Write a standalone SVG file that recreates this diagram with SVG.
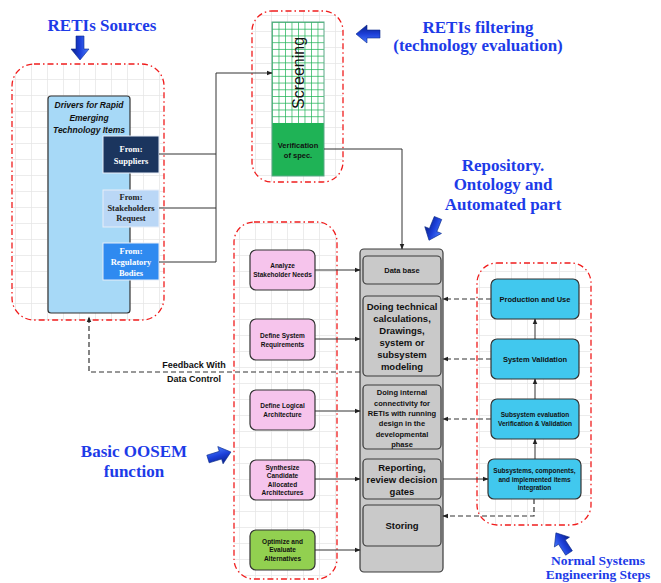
<svg xmlns="http://www.w3.org/2000/svg" width="661" height="583" viewBox="0 0 661 583">
  <defs>
    <style>
      .grp { fill: url(#grid); stroke: #f01c1c; stroke-width: 1.3; stroke-dasharray: 6 3 1.5 3; }
      .title { font-family: "Liberation Serif", "Times New Roman", serif; font-weight: bold; font-size: 17px; fill: #1d3be8; text-anchor: middle; }
      .lbl { font-family: "Liberation Sans", Arial, sans-serif; font-weight: bold; fill: #111; text-anchor: middle; }
      .src { font-family: "Liberation Serif", "Times New Roman", serif; font-weight: bold; font-size: 8.5px; text-anchor: middle; }
      .pink { fill: #f6c4ec; stroke: #333; stroke-width: 1.2; }
      .cyan { fill: #41c8ee; stroke: #333; stroke-width: 1.2; }
      .gray { fill: #c9c9c9; stroke: #3a3a3a; stroke-width: 1.2; }
      .wire { fill: none; stroke: #333; stroke-width: 1; }
      .dash { fill: none; stroke: #333; stroke-width: 1.2; stroke-dasharray: 5 3; }
      .bigarrow { fill: url(#blueGrad); stroke: #0a2a8a; stroke-width: 0.6; }
    </style>
    <pattern id="grid" patternUnits="userSpaceOnUse" width="16" height="16">
      <path d="M16 0 V16 M0 16 H16" fill="none" stroke="#e6e6e6" stroke-width="1.5"/>
    </pattern>
    <pattern id="greenGrid" patternUnits="userSpaceOnUse" x="272" y="22" width="6.5" height="6.73">
      <rect width="6.5" height="6.73" fill="#ffffff"/>
      <path d="M0 0 V6.73 M0 0 H6.5" fill="none" stroke="#1fb356" stroke-width="1.4"/>
    </pattern>
    <linearGradient id="blueGrad" x1="0" y1="0" x2="0" y2="1">
      <stop offset="0" stop-color="#4a7cff"/>
      <stop offset="0.5" stop-color="#1c3fd8"/>
      <stop offset="1" stop-color="#0a1f8a"/>
    </linearGradient>
    <marker id="ah" viewBox="0 0 10 10" refX="9" refY="5" markerWidth="6" markerHeight="6" markerUnits="userSpaceOnUse" orient="auto">
      <path d="M0 1 L10 5 L0 9 Z" fill="#222"/>
    </marker>
    <polygon id="blockArrow" points="0,-4 13,-4 13,-9 24,0 13,9 13,4 0,4"/>
  </defs>

  <!-- dashed boundary groups with faint grid -->
  <g id="group-sources"><rect class="grp" x="12" y="64" width="152" height="256" rx="22"/></g>
  <g id="group-filtering"><rect class="grp" x="252" y="11" width="91" height="171" rx="20"/></g>
  <g id="group-oosem"><rect class="grp" x="234" y="222" width="103" height="357" rx="20"/></g>
  <g id="group-normal"><rect class="grp" x="477" y="263" width="114" height="262" rx="20"/></g>

  <!-- section titles -->
  <g id="titles">
    <text class="title" x="102" y="31">RETIs Sources</text>
    <text class="title" x="478" y="33">RETIs filtering</text>
    <text class="title" x="478" y="51">(technology evaluation)</text>
    <text class="title" x="503" y="171">Repository.</text>
    <text class="title" x="503" y="190">Ontology and</text>
    <text class="title" x="503" y="210">Automated part</text>
    <text class="title" x="134" y="457">Basic OOSEM</text>
    <text class="title" x="134" y="477">function</text>
    <text class="title" x="598" y="565" style="font-size:13.5px">Normal Systems</text>
    <text class="title" x="598" y="579" style="font-size:13.5px">Engineering Steps</text>
  </g>

  <!-- pointer arrows next to titles -->
  <g id="pointers">
    <use href="#blockArrow" class="bigarrow" transform="translate(80,36) rotate(90)"/>
    <use href="#blockArrow" class="bigarrow" transform="translate(380,34) rotate(180)"/>
    <use href="#blockArrow" class="bigarrow" transform="translate(438,218) rotate(112)"/>
    <use href="#blockArrow" class="bigarrow" transform="translate(208,459) rotate(-17)"/>
    <use href="#blockArrow" class="bigarrow" transform="translate(569,553) rotate(-123)"/>
  </g>

  <!-- sources -->
  <g id="drivers">
    <rect x="48" y="96" width="82" height="217" rx="3" fill="#a7d9f7" stroke="#333" stroke-width="1.2"/>
    <text class="lbl" x="89" y="108" style="font-size:8.5px;font-style:italic">Drivers for Rapid</text>
    <text class="lbl" x="89" y="121" style="font-size:8.5px;font-style:italic">Emerging</text>
    <text class="lbl" x="89" y="133" style="font-size:8.5px;font-style:italic">Technology Items</text>
  </g>
  <g id="src-suppliers">
    <rect x="103" y="136" width="56" height="37" fill="#1b355e" stroke="#e8eef8" stroke-width="1"/>
    <text class="src" x="131" y="152" fill="#ffffff">From:</text>
    <text class="src" x="131" y="164" fill="#ffffff">Suppliers</text>
  </g>
  <g id="src-stakeholders">
    <rect x="103" y="190" width="56" height="37" fill="#bad7f6" stroke="#e8eef8" stroke-width="1"/>
    <text class="src" x="131" y="200" fill="#222">From:</text>
    <text class="src" x="131" y="211" fill="#222">Stakeholders</text>
    <text class="src" x="131" y="221" fill="#222">Request</text>
  </g>
  <g id="src-regulatory">
    <rect x="103" y="243" width="56" height="37" fill="#2f8af0" stroke="#e8eef8" stroke-width="1"/>
    <text class="src" x="131" y="254" fill="#ffffff">From:</text>
    <text class="src" x="131" y="265" fill="#ffffff">Regulatory</text>
    <text class="src" x="131" y="276" fill="#ffffff">Bodies</text>
  </g>

  <!-- screening column -->
  <g id="screening">
    <rect x="272" y="22" width="52" height="101" fill="url(#greenGrid)"/>
    <rect x="272" y="123" width="52" height="53" fill="#1fb356"/>
    <rect x="272" y="22" width="52" height="154" fill="none" stroke="#5aa886" stroke-width="1"/>
    <text x="0" y="0" transform="translate(304,73) rotate(-90)" style="font-family:'Liberation Sans',Arial,sans-serif;font-size:16px;fill:#111;text-anchor:middle">Screening</text>
    <text class="lbl" x="298" y="148" style="font-size:7.5px">Verification</text>
    <text class="lbl" x="298" y="158" style="font-size:7.5px">of spec.</text>
  </g>

  <!-- OOSEM steps -->
  <g id="oosem-analyze">
    <rect class="pink" x="250" y="250" width="65" height="40" rx="6"/>
    <text class="lbl" x="282.5" y="268" style="font-size:6.5px">Analyze</text>
    <text class="lbl" x="282.5" y="276.5" style="font-size:6.5px">Stakeholder Needs</text>
  </g>
  <g id="oosem-requirements">
    <rect class="pink" x="250" y="319" width="65" height="41" rx="6"/>
    <text class="lbl" x="282.5" y="338" style="font-size:6.5px">Define System</text>
    <text class="lbl" x="282.5" y="346.5" style="font-size:6.5px">Requirements</text>
  </g>
  <g id="oosem-logical">
    <rect class="pink" x="250" y="390" width="65" height="40" rx="6"/>
    <text class="lbl" x="282.5" y="408" style="font-size:6.5px">Define Logical</text>
    <text class="lbl" x="282.5" y="416.5" style="font-size:6.5px">Architecture</text>
  </g>
  <g id="oosem-synthesize">
    <rect class="pink" x="250" y="460" width="65" height="40" rx="6"/>
    <text class="lbl" x="282.5" y="469.5" style="font-size:6.5px">Synthesize</text>
    <text class="lbl" x="282.5" y="478" style="font-size:6.5px">Candidate</text>
    <text class="lbl" x="282.5" y="486.5" style="font-size:6.5px">Allocated</text>
    <text class="lbl" x="282.5" y="495" style="font-size:6.5px">Architectures</text>
  </g>
  <g id="oosem-optimize">
    <rect x="250" y="530" width="65" height="40" rx="6" fill="#92d050" stroke="#333" stroke-width="1.2"/>
    <text class="lbl" x="282.5" y="543.5" style="font-size:6.5px">Optimize and</text>
    <text class="lbl" x="282.5" y="552" style="font-size:6.5px">Evaluate</text>
    <text class="lbl" x="282.5" y="560.5" style="font-size:6.5px">Alternatives</text>
  </g>

  <!-- repository column -->
  <g id="repository">
    <rect class="gray" x="360" y="249" width="83" height="323" rx="4"/>
  </g>
  <g id="repo-database">
    <rect class="gray" x="363" y="256" width="78" height="28" rx="4"/>
    <text class="lbl" x="402" y="273" style="font-size:7.5px">Data base</text>
  </g>
  <g id="repo-calculations">
    <rect class="gray" x="363" y="296" width="78" height="80" rx="4"/>
    <text class="lbl" x="402" y="309.5" style="font-size:9.5px">Doing technical</text>
    <text class="lbl" x="402" y="321.5" style="font-size:9.5px">calculations,</text>
    <text class="lbl" x="402" y="333.5" style="font-size:9.5px">Drawings,</text>
    <text class="lbl" x="402" y="345.5" style="font-size:9.5px">system or</text>
    <text class="lbl" x="402" y="357.5" style="font-size:9.5px">subsystem</text>
    <text class="lbl" x="402" y="369.5" style="font-size:9.5px">modeling</text>
  </g>
  <g id="repo-connectivity">
    <rect class="gray" x="363" y="385" width="78" height="64" rx="4"/>
    <text class="lbl" x="402" y="395" style="font-size:7.5px">Doing internal</text>
    <text class="lbl" x="402" y="405.5" style="font-size:7.5px">connectivity for</text>
    <text class="lbl" x="402" y="416" style="font-size:7.5px">RETIs with running</text>
    <text class="lbl" x="402" y="426" style="font-size:7.5px">design in the</text>
    <text class="lbl" x="402" y="436.5" style="font-size:7.5px">developmental</text>
    <text class="lbl" x="402" y="447" style="font-size:7.5px">phase</text>
  </g>
  <g id="repo-reporting">
    <rect class="gray" x="363" y="459" width="78" height="40" rx="4"/>
    <text class="lbl" x="402" y="470.5" style="font-size:9.5px">Reporting,</text>
    <text class="lbl" x="402" y="482.5" style="font-size:9.5px">review decision</text>
    <text class="lbl" x="402" y="494.5" style="font-size:9.5px">gates</text>
  </g>
  <g id="repo-storing">
    <rect class="gray" x="363" y="505" width="78" height="41" rx="4"/>
    <text class="lbl" x="402" y="528.5" style="font-size:9.5px">Storing</text>
  </g>

  <!-- systems engineering steps -->
  <g id="se-production">
    <rect class="cyan" x="491" y="279" width="88" height="40" rx="6"/>
    <text class="lbl" x="535" y="301.5" style="font-size:7.5px">Production and Use</text>
  </g>
  <g id="se-validation">
    <rect class="cyan" x="491" y="339" width="88" height="40" rx="6"/>
    <text class="lbl" x="535" y="361.5" style="font-size:7.5px">System Validation</text>
  </g>
  <g id="se-subsystem-eval">
    <rect class="cyan" x="491" y="399" width="88" height="40" rx="6"/>
    <text class="lbl" x="535" y="417" style="font-size:6.5px">Subsystem evaluation</text>
    <text class="lbl" x="535" y="425.5" style="font-size:6.5px">Verification &amp; Validation</text>
  </g>
  <g id="se-integration">
    <rect class="cyan" x="488" y="459" width="93" height="40" rx="6"/>
    <text class="lbl" x="534.5" y="473" style="font-size:6.5px">Subsystems, components,</text>
    <text class="lbl" x="534.5" y="481.5" style="font-size:6.5px">and implemented items</text>
    <text class="lbl" x="534.5" y="490" style="font-size:6.5px">integration</text>
  </g>

  <!-- feedback label -->
  <g id="feedback-label">
    <text class="lbl" x="194" y="368" style="font-size:9px">Feedback With</text>
    <text class="lbl" x="194" y="382" style="font-size:9px">Data Control</text>
  </g>

  <!-- connectors -->
  <g id="connectors">
    <path class="wire" d="M159 154 H216 M159 208 H216 M159 262 H216 M216 262 V73"/>
    <path class="wire" d="M216 73 H272" marker-end="url(#ah)"/>
    <path class="wire" d="M324 149 H402 V249" marker-end="url(#ah)"/>
    <path class="wire" d="M315 270 H360" marker-end="url(#ah)"/>
    <path class="wire" d="M315 339 H360" marker-end="url(#ah)"/>
    <path class="wire" d="M315 411 H360" marker-end="url(#ah)"/>
    <path class="wire" d="M315 479 H360" marker-end="url(#ah)"/>
    <path class="wire" d="M315 550 H360" marker-end="url(#ah)"/>
    <path class="wire" d="M443 479 H488" marker-end="url(#ah)"/>
    <path class="wire" d="M535 459 V439" marker-end="url(#ah)"/>
    <path class="wire" d="M535 399 V379" marker-end="url(#ah)"/>
    <path class="wire" d="M535 339 V319" marker-end="url(#ah)"/>
    <path class="dash" d="M491 299 H443" marker-end="url(#ah)"/>
    <path class="dash" d="M491 359 H443" marker-end="url(#ah)"/>
    <path class="dash" d="M491 419 H443" marker-end="url(#ah)"/>
    <path class="dash" d="M534 499 V516 H443" marker-end="url(#ah)"/>
    <path class="dash" d="M360 372 H89 V317" marker-end="url(#ah)"/>
  </g>
</svg>
